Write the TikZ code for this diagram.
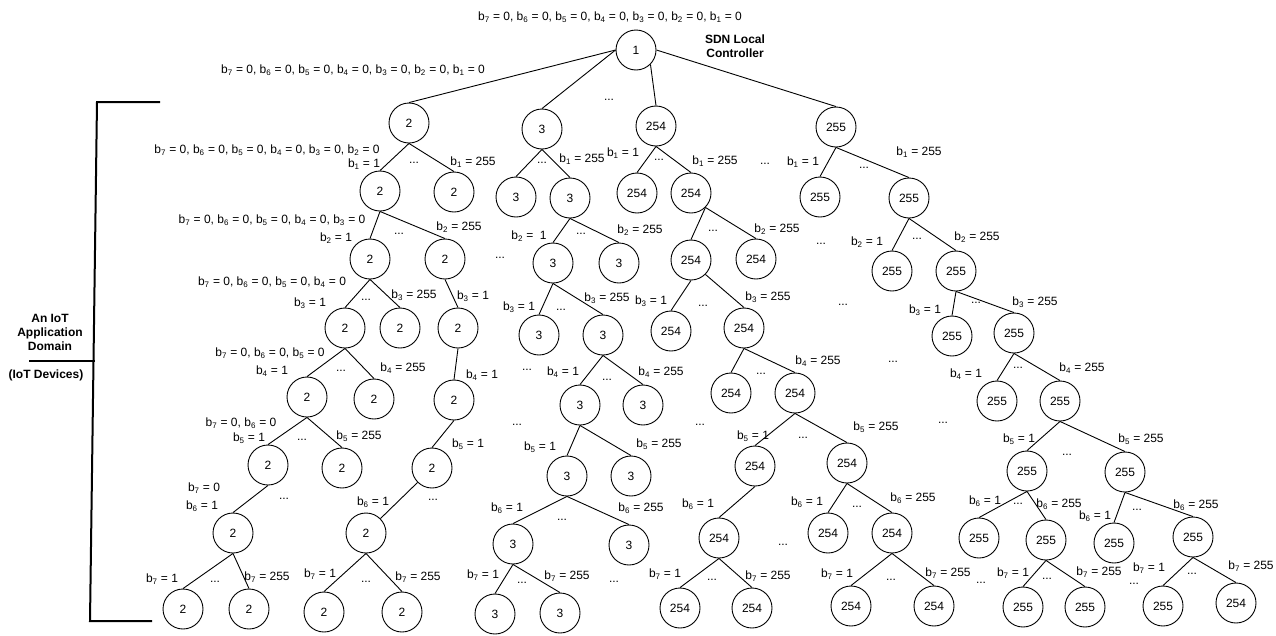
\documentclass[tikz,border=0pt]{standalone}
\usepackage{fontspec}
\setmainfont{Liberation Sans}
\newcommand{\bv}[2]{b\textsubscript{#1} = #2}
\begin{document}
\begin{tikzpicture}[x=1pt, y=-1pt, line width=0.9pt,
  dev/.style={circle, draw, minimum size=40pt, inner sep=0pt, font=\fontsize{12}{14}\selectfont},
  bit/.style={inner sep=0pt, font=\fontsize{12}{14}\selectfont},
  more/.style={inner sep=0pt, font=\fontsize{12}{14}\selectfont},
  head/.style={inner sep=0pt, align=center, font=\fontsize{12}{14}\selectfont\bfseries}]
\useasboundingbox (0,0) rectangle (1276,635);
% controller
\node[dev] (nid0) at (636,50){1};
\node[head] (sdn) at (735,46){SDN Local\\Controller};
\node[bit] (bl0) at (610,17){\bv{7}{0}, \bv{6}{0}, \bv{5}{0}, \bv{4}{0}, \bv{3}{0}, \bv{2}{0}, \bv{1}{0}};
% level 1
\node[dev] (nid1) at (409,123){2};
\node[dev] (nid2) at (542,129){3};
\node[dev] (nid3) at (656,126){254};
\node[dev] (nid4) at (836,127){255};
\draw[](nid0.west) -- (nid1.north);
\draw[](nid0.west) -- (nid2.north);
\draw[](nid0.south east) -- (nid3.north);
\draw[](nid0.east) -- (nid4.north);
\node[bit] (bl1) at (353,70){\bv{7}{0}, \bv{6}{0}, \bv{5}{0}, \bv{4}{0}, \bv{3}{0}, \bv{2}{0}, \bv{1}{0}};
\node[more] (dt1) at (609,100){...};
% level 2
\node[dev] (nid5) at (380,191){2};
\node[dev] (nid6) at (454,192){2};
\draw[](nid1.south) -- (nid5.north);
\draw[](nid1.south) -- (nid6.north);
\node[dev] (nid7) at (516,197){3};
\node[dev] (nid8) at (570,198){3};
\draw[](nid2.south) -- (nid7.north);
\draw[](nid2.south) -- (nid8.north);
\node[dev] (nid9) at (637,193){254};
\node[dev] (nid10) at (691,193){254};
\draw[](nid3.south) -- (nid9.north);
\draw[](nid3.south) -- (nid10.north);
\node[dev] (nid11) at (820,197){255};
\node[dev] (nid12) at (909,198){255};
\draw[](nid4.south) -- (nid11.north);
\draw[](nid4.south) -- (nid12.north);
\node[bit] (bl2) at (267,150){\bv{7}{0}, \bv{6}{0}, \bv{5}{0}, \bv{4}{0}, \bv{3}{0}, \bv{2}{0}};
\node[bit] (bl3) at (364,164){\bv{1}{1}};
\node[bit] (bl4) at (473,162){\bv{1}{255}};
\node[bit] (bl5) at (582,159){\bv{1}{255}};
\node[bit] (bl6) at (623,153){\bv{1}{1}};
\node[bit] (bl7) at (715,161){\bv{1}{255}};
\node[bit] (bl8) at (803,162){\bv{1}{1}};
\node[bit] (bl9) at (919,152){\bv{1}{255}};
\node[more] (dt2) at (414,163){...};
\node[more] (dt3) at (542,163){...};
\node[more] (dt4) at (659,160){...};
\node[more] (dt5) at (765,164){...};
\node[more] (dt6) at (864,168){...};
% level 3
\node[dev] (nid13) at (370,259){2};
\node[dev] (nid14) at (445,259){2};
\draw[](nid5.south) -- (nid13.north);
\draw[](nid5.south) -- (nid14.north);
\node[dev] (nid15) at (553,263){3};
\node[dev] (nid16) at (619,263){3};
\draw[](nid8.south) -- (nid15.north);
\draw[](nid8.south) -- (nid16.north);
\node[dev] (nid17) at (691,260){254};
\node[dev] (nid18) at (756,259){254};
\draw[](nid10.south east) -- (nid17.north);
\draw[](nid10.south east) -- (nid18.north);
\node[dev] (nid19) at (892,271){255};
\node[dev] (nid20) at (956,271){255};
\draw[](nid12.south) -- (nid19.north);
\draw[](nid12.south) -- (nid20.north);
\node[bit] (bl10) at (272,220){\bv{7}{0}, \bv{6}{0}, \bv{5}{0}, \bv{4}{0}, \bv{3}{0}};
\node[bit] (bl11) at (336,238){\bv{2}{1}};
\node[bit] (bl12) at (459,227){\bv{2}{255}};
\node[bit] (bl13) at (529,236){\bv{2}{ 1}};
\node[bit] (bl14) at (640,230){\bv{2}{255}};
\node[bit] (bl15) at (777,229){\bv{2}{255}};
\node[bit] (bl16) at (867,242){\bv{2}{1}};
\node[bit] (bl17) at (977,237){\bv{2}{255}};
\node[more] (dt7) at (399,234){...};
\node[more] (dt8) at (500,258){...};
\node[more] (dt9) at (581,234){...};
\node[more] (dt10) at (713,231){...};
\node[more] (dt11) at (821,244){...};
\node[more] (dt12) at (917,239){...};
% level 4
\node[dev] (nid21) at (345,328){2};
\node[dev] (nid22) at (400,328){2};
\draw[](nid13.south) -- (nid21.north);
\draw[](nid13.south) -- (nid22.north);
\node[dev] (nid23) at (458,328){2};
\draw[](nid14.south) -- (nid23.north);
\node[dev] (nid24) at (539,335){3};
\node[dev] (nid25) at (603,335){3};
\draw[](nid15.south) -- (nid24.north);
\draw[](nid15.south) -- (nid25.north);
\node[dev] (nid26) at (671,331){254};
\node[dev] (nid27) at (744,328){254};
\draw[](nid17.south) -- (nid26.north);
\draw[](nid17.south east) -- (nid27.north);
\node[dev] (nid28) at (952,336){255};
\node[dev] (nid29) at (1014,333){255};
\draw[](nid20.south) -- (nid28.north);
\draw[](nid20.south) -- (nid29.north);
\node[bit] (bl18) at (272,282){\bv{7}{0}, \bv{6}{0}, \bv{5}{0}, \bv{4}{0}};
\node[bit] (bl19) at (310,303){\bv{3}{1}};
\node[bit] (bl20) at (414,295){\bv{3}{255}};
\node[bit] (bl21) at (473,296){\bv{3}{1}};
\node[bit] (bl22) at (519,307){\bv{3}{1}};
\node[bit] (bl23) at (607,298){\bv{3}{255}};
\node[bit] (bl24) at (651,301){\bv{3}{1}};
\node[bit] (bl25) at (768,297){\bv{3}{255}};
\node[bit] (bl26) at (925,310){\bv{3}{1}};
\node[bit] (bl27) at (1035,302){\bv{3}{255}};
\node[more] (dt13) at (366,300){...};
\node[more] (dt14) at (561,310){...};
\node[more] (dt15) at (703,306){...};
\node[more] (dt16) at (843,305){...};
\node[more] (dt17) at (976,303){...};
% level 5
\node[dev] (nid30) at (307,397){2};
\node[dev] (nid31) at (374,399){2};
\draw[](nid21.south) -- (nid30.north);
\draw[](nid21.south) -- (nid31.north);
\node[dev] (nid32) at (454,400){2};
\draw[](nid23.south) -- (nid32.north);
\node[dev] (nid33) at (580,405){3};
\node[dev] (nid34) at (643,405){3};
\draw[](nid25.south) -- (nid33.north);
\draw[](nid25.south) -- (nid34.north);
\node[dev] (nid35) at (731,393){254};
\node[dev] (nid36) at (795,393){254};
\draw[](nid27.south) -- (nid35.north);
\draw[](nid27.south) -- (nid36.north);
\node[dev] (nid37) at (997,401){255};
\node[dev] (nid38) at (1060,401){255};
\draw[](nid29.south) -- (nid37.north);
\draw[](nid29.south) -- (nid38.north);
\node[bit] (bl28) at (270,353){\bv{7}{0}, \bv{6}{0}, \bv{5}{0}};
\node[bit] (bl29) at (272,371){\bv{4}{1}};
\node[bit] (bl30) at (403,368){\bv{4}{255}};
\node[bit] (bl31) at (482,375){\bv{4}{1}};
\node[bit] (bl32) at (563,372){\bv{4}{1}};
\node[bit] (bl33) at (661,372){\bv{4}{255}};
\node[bit] (bl34) at (818,361){\bv{4}{255}};
\node[bit] (bl35) at (966,374){\bv{4}{1}};
\node[bit] (bl36) at (1082,368){\bv{4}{255}};
\node[more] (dt18) at (341,371){...};
\node[more] (dt19) at (527,370){...};
\node[more] (dt20) at (607,380){...};
\node[more] (dt21) at (761,374){...};
\node[more] (dt22) at (893,362){...};
\node[more] (dt23) at (1018,368){...};
% level 6
\node[dev] (nid39) at (268,465){2};
\node[dev] (nid40) at (342,468){2};
\draw[](nid30.south) -- (nid39.north);
\draw[](nid30.south) -- (nid40.north);
\node[dev] (nid41) at (432,468){2};
\draw[](nid32.south) -- (nid41.north);
\node[dev] (nid42) at (567,476){3};
\node[dev] (nid43) at (631,476){3};
\draw[](nid33.south) -- (nid42.north);
\draw[](nid33.south) -- (nid43.north);
\node[dev] (nid44) at (755,466){254};
\node[dev] (nid45) at (847,463){254};
\draw[](nid36.south) -- (nid44.north);
\draw[](nid36.south) -- (nid45.north);
\node[dev] (nid46) at (1027,471){255};
\node[dev] (nid47) at (1125,472){255};
\draw[](nid38.south) -- (nid46.north);
\draw[](nid38.south) -- (nid47.north);
\node[bit] (bl37) at (241,423){\bv{7}{0}, \bv{6}{0}};
\node[bit] (bl38) at (249,438){\bv{5}{1}};
\node[bit] (bl39) at (359,436){\bv{5}{255}};
\node[bit] (bl40) at (468,444){\bv{5}{1}};
\node[bit] (bl41) at (540,447){\bv{5}{1}};
\node[bit] (bl42) at (659,444){\bv{5}{255}};
\node[bit] (bl43) at (753,436){\bv{5}{1}};
\node[bit] (bl44) at (876,427){\bv{5}{255}};
\node[bit] (bl45) at (1019,439){\bv{5}{1}};
\node[bit] (bl46) at (1141,439){\bv{5}{255}};
\node[more] (dt24) at (302,440){...};
\node[more] (dt25) at (517,425){...};
\node[more] (dt26) at (700,425){...};
\node[more] (dt27) at (803,438){...};
\node[more] (dt28) at (943,423){...};
\node[more] (dt29) at (1067,455){...};
% level 7
\node[dev] (nid48) at (233,533){2};
\draw[](nid39.south) -- (nid48.north);
\node[dev] (nid49) at (366,533){2};
\draw[](nid41.south west) -- (nid49.north east);
\node[dev] (nid50) at (513,544){3};
\node[dev] (nid51) at (629,545){3};
\draw[](nid42.south) -- (nid50.north);
\draw[](nid42.south) -- (nid51.north);
\node[dev] (nid52) at (719,538){254};
\draw[](nid44.south) -- (nid52.north);
\node[dev] (nid53) at (828,533){254};
\node[dev] (nid54) at (892,533){254};
\draw[](nid45.south) -- (nid53.north);
\draw[](nid45.south) -- (nid54.north);
\node[dev] (nid55) at (979,538){255};
\node[dev] (nid56) at (1046,540){255};
\draw[](nid46.south) -- (nid55.north);
\draw[](nid46.south) -- (nid56.north);
\node[dev] (nid57) at (1114,543){255};
\node[dev] (nid58) at (1193,537){255};
\draw[](nid47.south) -- (nid57.north);
\draw[](nid47.south) -- (nid58.north);
\node[bit] (bl47) at (204,488){\bv{7}{0}};
\node[bit] (bl48) at (202,506){\bv{6}{1}};
\node[bit] (bl49) at (373,502){\bv{6}{1}};
\node[bit] (bl50) at (507,508){\bv{6}{1}};
\node[bit] (bl51) at (641,508){\bv{6}{255}};
\node[bit] (bl52) at (698,504){\bv{6}{1}};
\node[bit] (bl53) at (807,502){\bv{6}{1}};
\node[bit] (bl54) at (913,498){\bv{6}{255}};
\node[bit] (bl55) at (985,501){\bv{6}{1}};
\node[bit] (bl56) at (1059,504){\bv{6}{255}};
\node[bit] (bl57) at (1095,516){\bv{6}{1}};
\node[bit] (bl58) at (1196,505){\bv{6}{255}};
\node[more] (dt30) at (284,499){...};
\node[more] (dt31) at (433,500){...};
\node[more] (dt32) at (562,520){...};
\node[more] (dt33) at (783,545){...};
\node[more] (dt34) at (857,507){...};
\node[more] (dt35) at (1018,504){...};
\node[more] (dt36) at (1137,510){...};
% level 8
\node[dev] (nid59) at (183,609){2};
\node[dev] (nid60) at (249,609){2};
\draw[](nid48.south) -- (nid59.north);
\draw[](nid48.south) -- (nid60.north);
\node[dev] (nid61) at (324,612){2};
\node[dev] (nid62) at (402,612){2};
\draw[](nid49.south) -- (nid61.north);
\draw[](nid49.south) -- (nid62.north);
\node[dev] (nid63) at (495,614){3};
\node[dev] (nid64) at (560,613){3};
\draw[](nid50.south) -- (nid63.north);
\draw[](nid50.south) -- (nid64.north);
\node[dev] (nid65) at (680,608){254};
\node[dev] (nid66) at (752,608){254};
\draw[](nid52.south) -- (nid65.north);
\draw[](nid52.south) -- (nid66.north);
\node[dev] (nid67) at (851,606){254};
\node[dev] (nid68) at (934,606){254};
\draw[](nid54.south) -- (nid67.north);
\draw[](nid54.south) -- (nid68.north);
\node[dev] (nid69) at (1023,607){255};
\node[dev] (nid70) at (1085,607){255};
\draw[](nid56.south) -- (nid69.north);
\draw[](nid56.south) -- (nid70.north);
\node[dev] (nid71) at (1163,606){255};
\node[dev] (nid72) at (1236,603){254};
\draw[](nid58.south) -- (nid71.north);
\draw[](nid58.south) -- (nid72.north);
\node[bit] (bl59) at (162,579){\bv{7}{1}};
\node[bit] (bl60) at (267,577){\bv{7}{255}};
\node[bit] (bl61) at (320,574){\bv{7}{1}};
\node[bit] (bl62) at (418,577){\bv{7}{255}};
\node[bit] (bl63) at (483,575){\bv{7}{1}};
\node[bit] (bl64) at (567,576){\bv{7}{255}};
\node[bit] (bl65) at (665,574){\bv{7}{1}};
\node[bit] (bl66) at (768,576){\bv{7}{255}};
\node[bit] (bl67) at (837,574){\bv{7}{1}};
\node[bit] (bl68) at (948,573){\bv{7}{255}};
\node[bit] (bl69) at (1013,573){\bv{7}{1}};
\node[bit] (bl70) at (1099,572){\bv{7}{255}};
\node[bit] (bl71) at (1149,568){\bv{7}{1}};
\node[bit] (bl72) at (1251,566){\bv{7}{255}};
\node[more] (dt37) at (215,582){...};
\node[more] (dt38) at (366,582){...};
\node[more] (dt39) at (522,583){...};
\node[more] (dt40) at (614,582){...};
\node[more] (dt41) at (712,580){...};
\node[more] (dt42) at (891,580){...};
\node[more] (dt43) at (981,583){...};
\node[more] (dt44) at (1047,579){...};
\node[more] (dt45) at (1134,584){...};
\node[more] (dt46) at (1192,574){...};
% application domain bracket
\draw[line width=2pt] (160,102) -- (97,102) -- (90,621) -- (152,621);
\draw[line width=2pt] (29,361) -- (95,361);
\node[head] (dom) at (50,332){An IoT\\Application\\Domain};
\node[head] (devs) at (46,375){(IoT Devices)};
\end{tikzpicture}
\end{document}
